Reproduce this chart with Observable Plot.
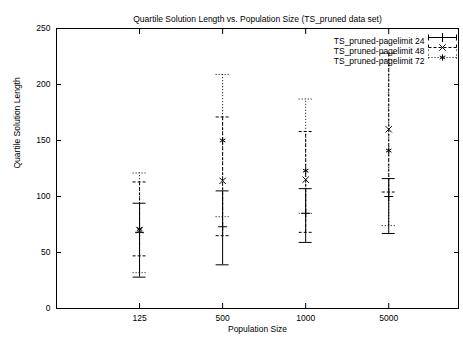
<!DOCTYPE html>
<html><head><meta charset="utf-8">
<script src="https://cdn.jsdelivr.net/npm/d3@7"></script>
<script src="https://cdn.jsdelivr.net/npm/@observablehq/plot@0.6"></script>
<style>body{margin:0;background:#fff}</style>
</head><body><div id="chart"></div>
<script>
const popSizes = ["125", "500", "1000", "5000"];
const seriesNames = ["TS_pruned-pagelimit 24", "TS_pruned-pagelimit 48", "TS_pruned-pagelimit 72"];
const low24 = [28, 39, 59, 67];
const mid24 = [68, 73, 85, 100];
const high24 = [94, 105, 107, 116];
const low48 = [47, 65, 68, 104];
const mid48 = [70, 114, 115, 160];
const high48 = [113, 171, 158, 228];
const low72 = [32, 82, 85, 74];
const mid72 = [71, 150, 123, 141];
const high72 = [121, 209, 187, 222];
const yTicks = [0, 50, 100, 150, 200, 250];
const titleText = "Quartile Solution Length vs. Population Size (TS_pruned data set)";
const xLabel = "Population Size";
const yLabel = "Quartile Solution Length";

const lows = [low24, low48, low72], mids = [mid24, mid48, mid72], highs = [high24, high48, high72];
const rows = [];
seriesNames.forEach((s, si) => popSizes.forEach((p, pi) => rows.push({
  series: s, si, pos: pi + 1, low: lows[si][pi], mid: mids[si][pi], high: highs[si][pi]
})));

const dash = ["none", "3,2", "1,2"];
const symbols = ["plus", "times", "asterisk"];
const capHalf = 0.078;
const font = "Liberation Sans, Arial, sans-serif";

const keySample = {
  draw(ctx) {
    ctx.moveTo(-14, 0); ctx.lineTo(14, 0);
    ctx.moveTo(-14, -3); ctx.lineTo(-14, 3);
    ctx.moveTo(14, -3); ctx.lineTo(14, 3);
  }
};

const marks = [
  Plot.frame({stroke: "black"}),
  Plot.axisY(yTicks, {anchor: "left", tickSize: -5, tickPadding: 11, fontSize: 8.5, label: null}),
  Plot.axisY(yTicks, {anchor: "right", tickSize: -5, tickFormat: () => "", label: null}),
  Plot.axisX([1, 2, 3, 4], {anchor: "bottom", tickSize: -5, tickPadding: 11, fontSize: 8.5,
    tickFormat: d => popSizes[d - 1], label: null}),
  Plot.axisX([1, 2, 3, 4], {anchor: "top", tickSize: -5, tickFormat: () => "", label: null}),
  Plot.text([titleText], {frameAnchor: "top", dy: -13, fontSize: 8.5, text: d => d}),
  Plot.text([xLabel], {frameAnchor: "bottom", dy: 23, fontSize: 8.5, text: d => d}),
  Plot.text([yLabel], {frameAnchor: "left", dx: -39, rotate: -90, fontSize: 8.5, text: d => d})
];

seriesNames.forEach((s, si) => {
  const data = rows.filter(d => d.si === si);
  const sty = {stroke: "black", strokeWidth: 1, strokeDasharray: dash[si]};
  marks.push(
    Plot.ruleX(data, {x: "pos", y1: "low", y2: "high", ...sty}),
    Plot.ruleY(data, {y: "low", x1: d => d.pos - capHalf, x2: d => d.pos + capHalf, ...sty}),
    Plot.ruleY(data, {y: "high", x1: d => d.pos - capHalf, x2: d => d.pos + capHalf, ...sty}),
    Plot.dot(data, {x: "pos", y: "mid", symbol: symbols[si], r: 3, stroke: "black", strokeWidth: 1}),
    // key
    Plot.text([s], {frameAnchor: "top-right", dx: -34, dy: 9 + si * 10, text: d => d, textAnchor: "end", fontSize: 8.5}),
    Plot.dot([s], {frameAnchor: "top-right", dx: -16, dy: 9 + si * 10, symbol: keySample, r: 3, fill: "none", ...sty}),
    Plot.dot([s], {frameAnchor: "top-right", dx: -16, dy: 9 + si * 10, symbol: symbols[si], r: 3, stroke: "black", strokeWidth: 1})
  );
});

const chart = Plot.plot({
  width: 463, height: 340,
  marginLeft: 56, marginRight: 5, marginTop: 28, marginBottom: 32,
  style: {fontFamily: font, fontSize: "8.5px", color: "black", background: "white"},
  x: {domain: [0, 4.84], axis: null},
  y: {domain: [0, 250], axis: null},
  marks
});
document.getElementById("chart").append(chart);
</script>
</body></html>
